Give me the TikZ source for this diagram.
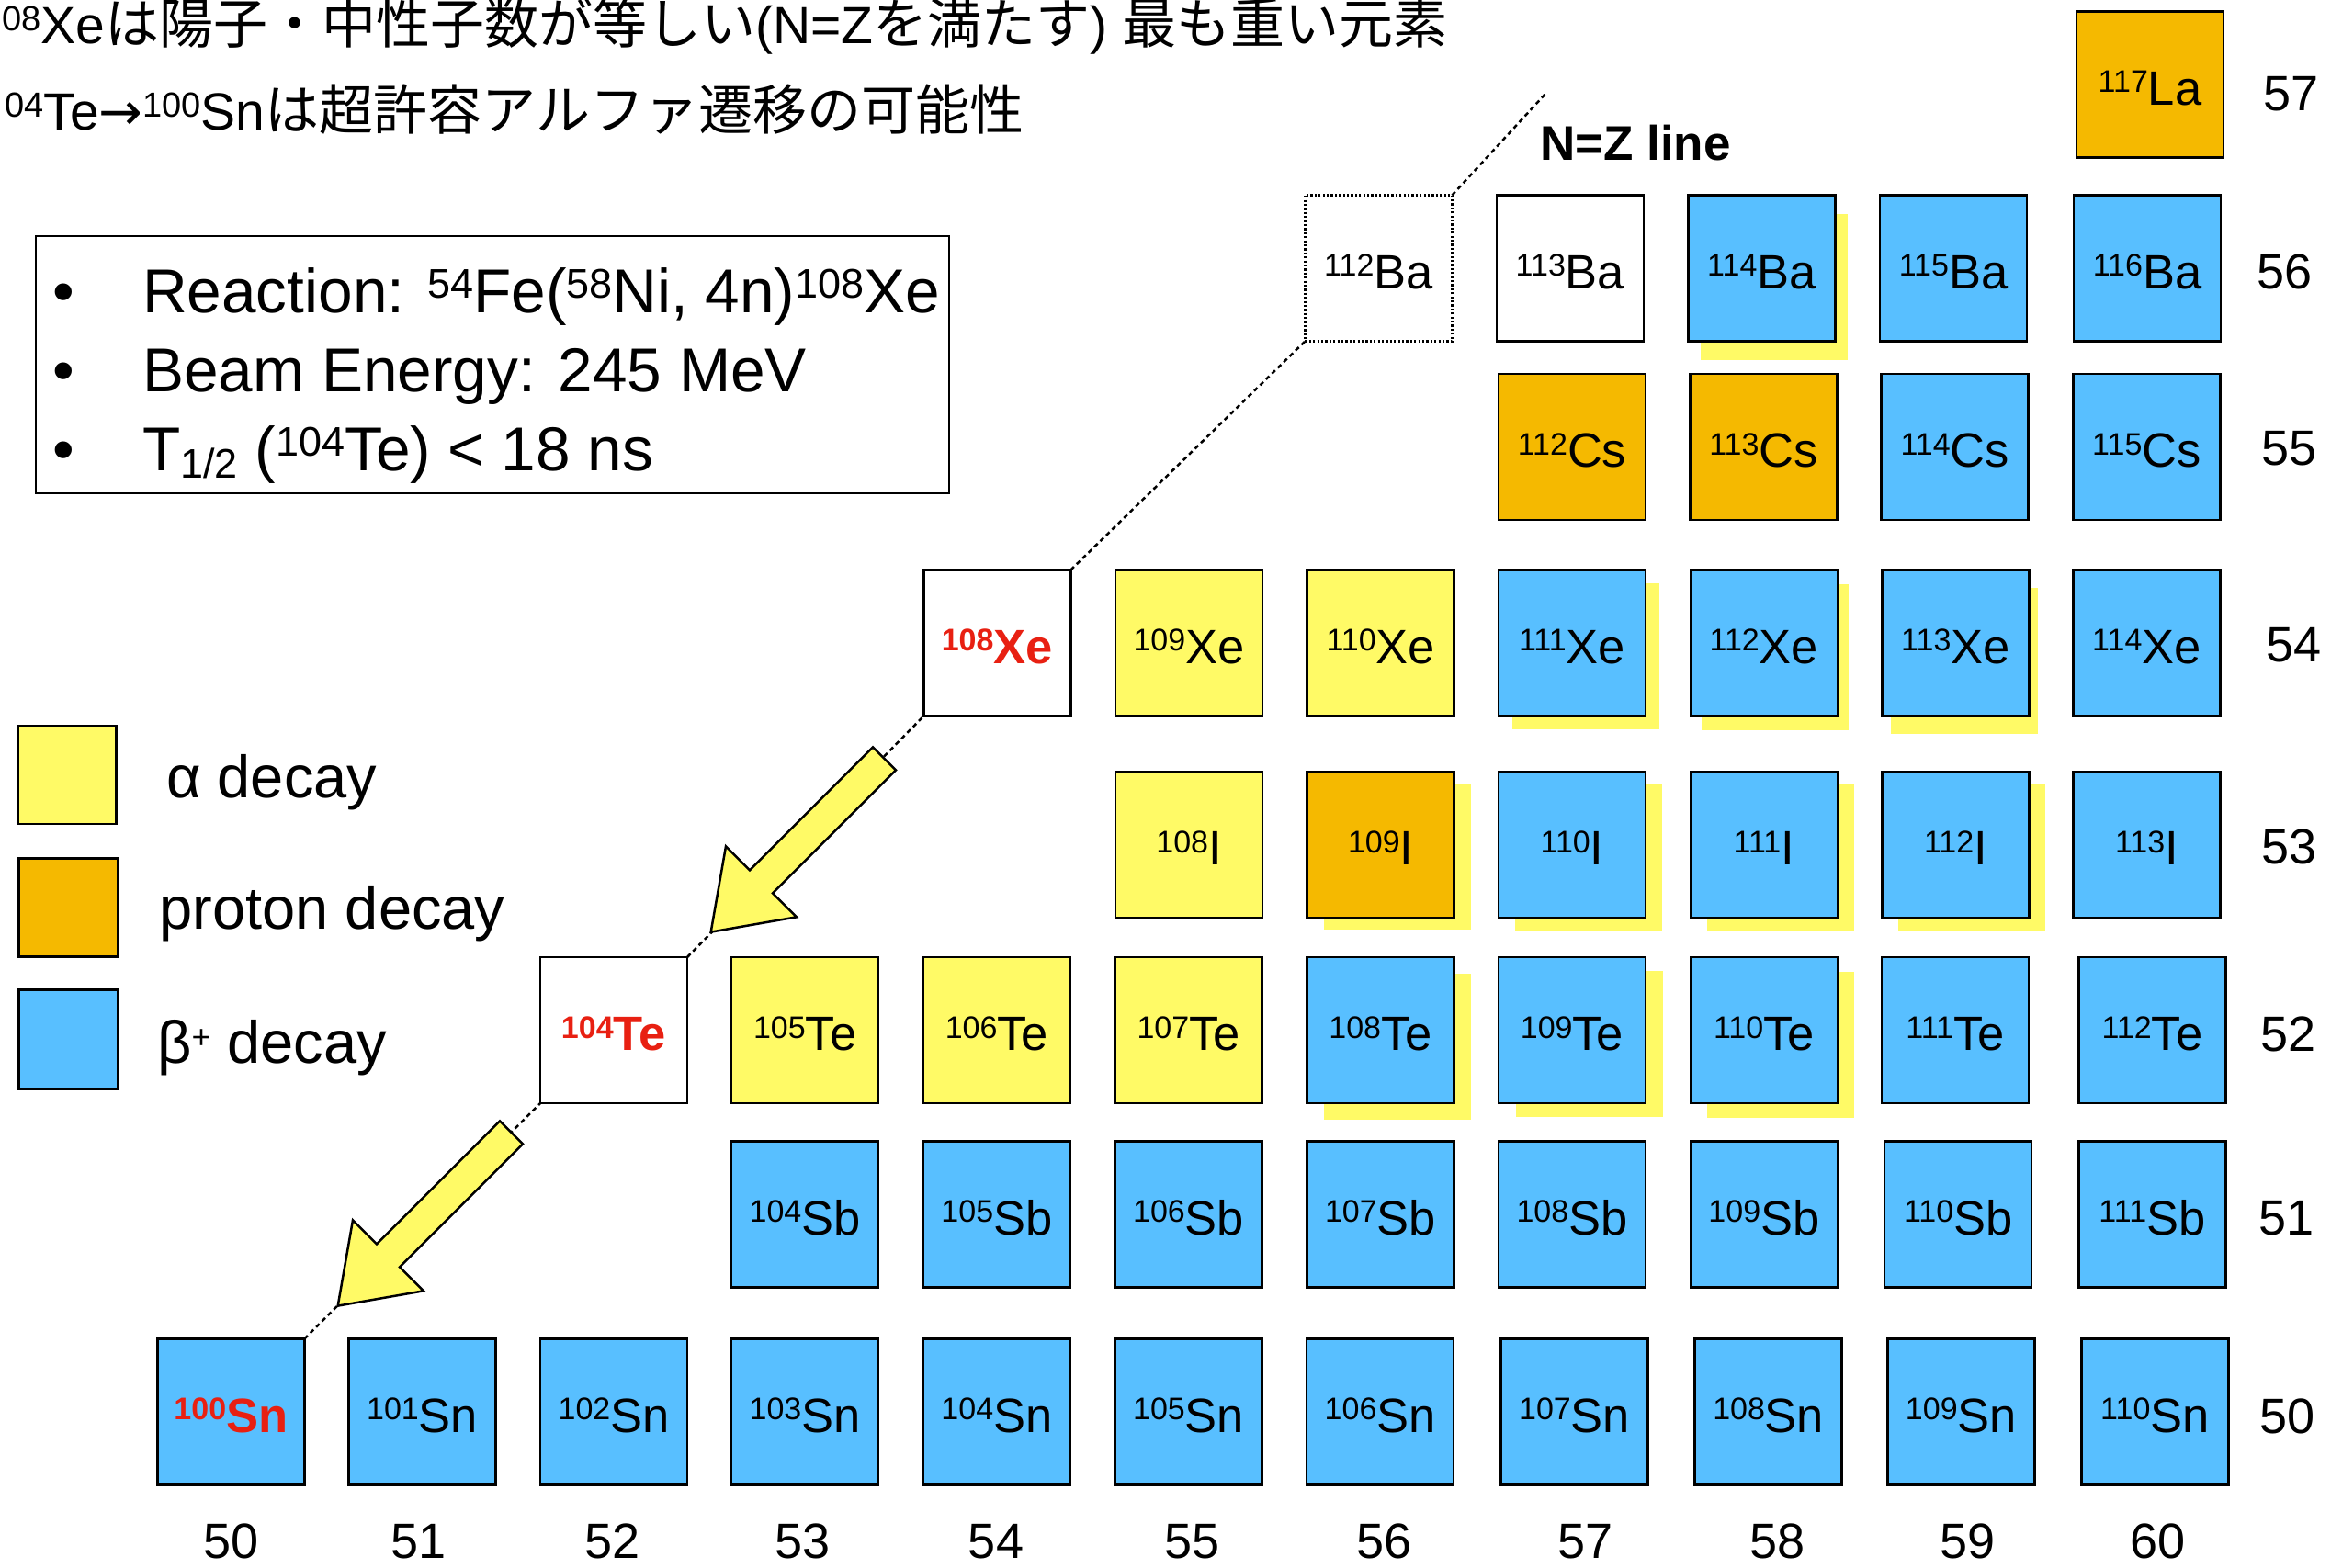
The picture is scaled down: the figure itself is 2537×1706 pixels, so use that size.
\documentclass[tikz,border=0pt]{standalone}
\usepackage{fontspec}
\setmainfont{Liberation Sans}
\newfontfamily\cjk{Noto Sans CJK JP}
\newfontfamily\dejavu{DejaVu Sans}
\usetikzlibrary{backgrounds}
\definecolor{ylw}{RGB}{255,250,102}
\definecolor{org}{RGB}{245,185,0}
\definecolor{blu}{RGB}{88,191,255}
\definecolor{nred}{RGB}{232,32,18}
\newcommand\nucl[2]{\raisebox{13.2pt}{\fontsize{34}{34}\selectfont #1}#2}
\newcommand\nucr[2]{\textcolor{nred}{\bfseries\raisebox{13.2pt}{\fontsize{34}{34}\selectfont #1}#2}}
\newcommand\jp[1]{{\fontsize{59}{59}\cjk #1}}
\newcommand\tsup[1]{\raisebox{14pt}{\fontsize{38}{38}\selectfont #1}}
\newcommand\lsup[1]{\raisebox{16pt}{\fontsize{45}{45}\selectfont #1}}
\newcommand\lsub[1]{\raisebox{-8pt}{\fontsize{45}{45}\selectfont #1}}
\tikzset{
  nuc/.style={draw=black, line width=2.5pt, minimum width=160pt, minimum height=159pt,
    inner sep=0pt, outer sep=0pt, text height=44pt, text depth=0pt,
    font=\fontsize{52.5}{52.5}\selectfont},
  ybox/.style={nuc, fill=ylw},
  obox/.style={nuc, fill=org},
  bbox/.style={nuc, fill=blu},
  wbox/.style={nuc, fill=white},
  zlab/.style={font=\fontsize{54}{54}\selectfont, inner sep=0pt},
  nzline/.style={line width=2.5pt, dash pattern=on 5pt off 4pt},
  bigarrow/.style={draw=black, line width=2.5pt, fill=ylw, line join=miter},
  legtext/.style={anchor=base west, inner sep=0pt, font=\fontsize{67.5}{67.5}\selectfont},
  keytext/.style={anchor=base west, inner sep=0pt, font=\fontsize{65}{65}\selectfont},
  keybox/.style={draw=black, line width=2.5pt, inner sep=0pt, outer sep=0pt},
  toptext/.style={anchor=base west, inner sep=0pt, font=\fontsize{57}{57}\selectfont},
}
\begin{document}
\begin{tikzpicture}[x=1pt,y=-1pt]
\useasboundingbox (0,0) rectangle (2537,1706);

% top texts
\node[toptext] (jp1) at (2,47) {\tsup{08}Xe\jp{は陽子・中性子数が等しい}(N=Z\jp{を満たす}) \jp{最も重い元素}};
\node[toptext] (jp2) at (5,141) {\tsup{04}Te{\dejavu →}\tsup{100}Sn\jp{は超許容アルファ遷移の可能性}};

% info box
\node[draw=black, line width=2.5pt, minimum width=994pt, minimum height=280pt, inner sep=0pt] (info) at (536,397) {};
\node[legtext] (b1) at (57,340.6) {•};
\node[legtext] (b2) at (57,426.4) {•};
\node[legtext] (b3) at (57,512) {•};
\node[legtext] (r1) at (155,340.6) {Reaction: \lsup{54}Fe(\lsup{58}Ni, 4n)\lsup{108}Xe};
\node[legtext] (r2) at (155,426.4) {Beam Energy: 245 MeV};
\node[legtext] (r3) at (155,512) {T\lsub{1/2} (\lsup{104}Te) < 18 ns};

% decay key
\node[keybox, fill=ylw, minimum width=107pt, minimum height=107pt] (ka) at (73,843.7) {};
\node[keybox, fill=org, minimum width=108pt, minimum height=107pt] (kp) at (74.5,988) {};
\node[keybox, fill=blu, minimum width=108pt, minimum height=108pt] (kb) at (74.5,1131.7) {};
\node[keytext] (ta) at (181,868) {α decay};
\node[keytext] (tp) at (173.5,1011.5) {proton decay};
\node[keytext] (tb) at (171,1157) {β\raisebox{16pt}{\fontsize{36}{36}\selectfont +} decay};

% Z = 50
\node[bbox] (Sn100) at (251.4,1537) {\nucr{100}{Sn}};
\node[bbox] (Sn101) at (459.6,1537) {\nucl{101}{Sn}};
\node[bbox] (Sn102) at (668.1,1537) {\nucl{102}{Sn}};
\node[bbox] (Sn103) at (876.1,1537) {\nucl{103}{Sn}};
\node[bbox] (Sn104) at (1084.9,1537) {\nucl{104}{Sn}};
\node[bbox] (Sn105) at (1293.6,1537) {\nucl{105}{Sn}};
\node[bbox] (Sn106) at (1502.2,1537) {\nucl{106}{Sn}};
\node[bbox] (Sn107) at (1713.6,1537) {\nucl{107}{Sn}};
\node[bbox] (Sn108) at (1924.7,1537) {\nucl{108}{Sn}};
\node[bbox] (Sn109) at (2134.4,1537) {\nucl{109}{Sn}};
\node[bbox] (Sn110) at (2345.4,1537) {\nucl{110}{Sn}};
% Z = 51
\node[bbox] (Sb104) at (876.1,1322) {\nucl{104}{Sb}};
\node[bbox] (Sb105) at (1084.9,1322) {\nucl{105}{Sb}};
\node[bbox] (Sb106) at (1293.6,1322) {\nucl{106}{Sb}};
\node[bbox] (Sb107) at (1502.5,1322) {\nucl{107}{Sb}};
\node[bbox] (Sb108) at (1711,1322) {\nucl{108}{Sb}};
\node[bbox] (Sb109) at (1919.9,1322) {\nucl{109}{Sb}};
\node[bbox] (Sb110) at (2131.2,1322) {\nucl{110}{Sb}};
\node[bbox] (Sb111) at (2342.4,1322) {\nucl{111}{Sb}};
% Z = 52
\node[wbox] (Te104) at (668,1121.5) {\nucr{104}{Te}};
\node[ybox] (Te105) at (876.1,1121.5) {\nucl{105}{Te}};
\node[ybox] (Te106) at (1084.9,1121.5) {\nucl{106}{Te}};
\node[ybox] (Te107) at (1293.6,1121.5) {\nucl{107}{Te}};
\node[bbox] (Te108) at (1502.5,1121.5) {\nucl{108}{Te}};
\node[bbox] (Te109) at (1711,1121.5) {\nucl{109}{Te}};
\node[bbox] (Te110) at (1919.9,1121.5) {\nucl{110}{Te}};
\node[bbox] (Te111) at (2128,1121.5) {\nucl{111}{Te}};
\node[bbox] (Te112) at (2342.4,1121.5) {\nucl{112}{Te}};
% Z = 53
\node[ybox] (I108) at (1294,919.5) {\nucl{108}{I}};
\node[obox] (I109) at (1502.7,919.5) {\nucl{109}{I}};
\node[bbox] (I110) at (1711,919.5) {\nucl{110}{I}};
\node[bbox] (I111) at (1919.8,919.5) {\nucl{111}{I}};
\node[bbox] (I112) at (2128.4,919.5) {\nucl{112}{I}};
\node[bbox] (I113) at (2336.4,919.5) {\nucl{113}{I}};
% Z = 54
\node[wbox] (Xe108) at (1085.3,700) {\nucr{108}{Xe}};
\node[ybox] (Xe109) at (1294,700) {\nucl{109}{Xe}};
\node[ybox] (Xe110) at (1502.7,700) {\nucl{110}{Xe}};
\node[bbox] (Xe111) at (1711,700) {\nucl{111}{Xe}};
\node[bbox] (Xe112) at (1919.8,700) {\nucl{112}{Xe}};
\node[bbox] (Xe113) at (2128.4,700) {\nucl{113}{Xe}};
\node[bbox] (Xe114) at (2336.4,700) {\nucl{114}{Xe}};
% Z = 55
\node[obox] (Cs112) at (1711,486.7) {\nucl{112}{Cs}};
\node[obox] (Cs113) at (1919.5,486.7) {\nucl{113}{Cs}};
\node[bbox] (Cs114) at (2127.7,486.7) {\nucl{114}{Cs}};
\node[bbox] (Cs115) at (2336.4,486.7) {\nucl{115}{Cs}};
% Z = 56
\node[wbox, line width=2.2pt, dash pattern=on 2.2pt off 2.2pt] (Ba112) at (1500.4,292) {\nucl{112}{Ba}};
\node[wbox] (Ba113) at (1708.9,292) {\nucl{113}{Ba}};
\node[bbox] (Ba114) at (1917.4,292) {\nucl{114}{Ba}};
\node[bbox] (Ba115) at (2126,292) {\nucl{115}{Ba}};
\node[bbox] (Ba116) at (2337,292) {\nucl{116}{Ba}};
% Z = 57
\node[obox] (La117) at (2340,92) {\nucl{117}{La}};

% white page and yellow shadows (alpha branch), behind the boxes
\begin{scope}[on background layer]
\fill[white] (0,0) rectangle (2537,1706);
\foreach \n/\dx/\dy in {Ba114/14/20, Xe111/15/14, Xe112/12/15, Xe113/10/19,
  I109/18/13, I110/18/14, I111/18/14, I112/18/14, Te108/18/18, Te109/19/15, Te110/18/16}
  \fill[ylw] ([shift={(\dx,\dy)}]\n.south west) rectangle ([shift={(\dx,\dy)}]\n.north east);
\end{scope}

% N = Z line
\coordinate (nzend) at (1683,101);
\draw[nzline] (Sn100.north east) -- (Te104.south west)
  (Te104.north east) -- (Xe108.south west)
  (Xe108.north east) -- (Ba112.south west)
  (Ba112.north east) -- (nzend);
\node[font=\fontsize{53}{53}\selectfont\bfseries, inner sep=0pt] (nzlabel) at (1780,156) {N=Z line};

% block arrows (alpha decays)
\foreach \dx/\dy in {0/0, -406/407}
  \draw[bigarrow, shift={(\dx,\dy)}] (950,813.3) -- (975,838.3) -- (841,972.3) -- (867,998.3)
    -- (773.7,1014.6) -- (790,921.3) -- (816,947.3) -- cycle;

% axis labels
\foreach \z/\x in {50/251.6, 51/455.8, 52/666.7, 53/873.7, 54/1084, 55/1297.6, 56/1506.6,
  57/1725.9, 58/1934.9, 59/2141.5, 60/2348.9}
  \node[zlab] (N\z) at (\x,1678) {\z};
\foreach \z/\x/\y in {57/2493/101.7, 56/2486/295.8, 55/2491.7/488.6, 54/2496.6/702.2,
  53/2491.7/922.3, 52/2490.5/1125.8, 51/2488/1325.8, 50/2489/1541.7}
  \node[zlab] (Z\z) at (\x,\y) {\z};
\end{tikzpicture}
\end{document}
